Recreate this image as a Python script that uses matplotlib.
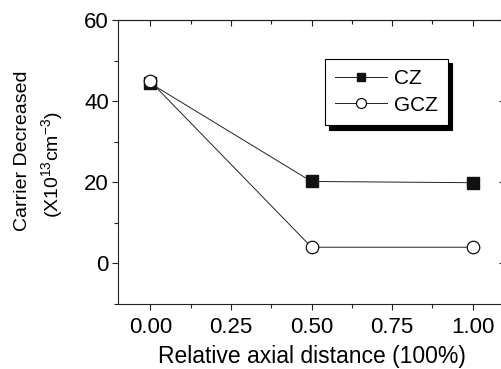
import matplotlib
matplotlib.use("Agg")
import matplotlib.pyplot as plt
from matplotlib.ticker import MultipleLocator

plt.rcParams['font.family'] = ['Liberation Sans', 'DejaVu Sans']
plt.rcParams['mathtext.fontset'] = 'custom'
plt.rcParams['mathtext.rm'] = 'Liberation Sans'

# data
position = [0.0, 0.5, 1.0]
cz = [44.4, 20.2, 19.9]
gcz = [44.9, 4.0, 4.0]

FS = 16
INK = '#222222'
W, H = 502, 369

fig = plt.figure(figsize=(5.02, 3.69), dpi=100)
# right edge sits just past the image border, like the reference crop
ax = fig.add_axes([118 / W, 1 - 304 / H, 387 / W, 284 / H])

ax.plot(position, cz, color=INK, lw=0.7, marker='s', ms=8,
        mfc='#111111', mec='#111111', label='CZ')
ax.plot(position, gcz, color=INK, lw=0.7, marker='o', ms=9,
        mfc='white', mec='#111111', mew=0.9, label='GCZ')

ax.set_xlim(-0.1, 1.1)
ax.set_ylim(-10, 60)
ax.xaxis.set_major_locator(MultipleLocator(0.25))
ax.xaxis.set_minor_locator(MultipleLocator(0.125))
ax.yaxis.set_major_locator(MultipleLocator(20))
ax.yaxis.set_minor_locator(MultipleLocator(10))
ax.xaxis.set_major_formatter(plt.FormatStrFormatter('%.2f'))
# bottom/left ticks point out
ax.tick_params(which='both', direction='out', labelsize=FS, width=0.8, color=INK)
ax.tick_params(which='major', length=4.5)
ax.tick_params(which='minor', length=3)
ax.tick_params(axis='x', which='major', pad=5)
ax.tick_params(axis='y', which='major', pad=2)
for s in ax.spines.values():
    s.set_linewidth(0.8)
    s.set_color(INK)

# top/right ticks point in
top = ax.secondary_xaxis('top')
top.xaxis.set_major_locator(MultipleLocator(0.25))
top.xaxis.set_minor_locator(MultipleLocator(0.125))
top.tick_params(which='both', direction='in', labeltop=False, width=0.8, color=INK)
top.tick_params(which='major', length=4.5)
top.tick_params(which='minor', length=3)
right = ax.secondary_yaxis('right')
right.yaxis.set_major_locator(MultipleLocator(20))
right.yaxis.set_minor_locator(MultipleLocator(10))
right.tick_params(which='both', direction='in', labelright=False, width=0.8, color=INK)
right.tick_params(which='major', length=4.5)
right.tick_params(which='minor', length=3)
for s in list(top.spines.values()) + list(right.spines.values()):
    s.set_linewidth(0.8)
    s.set_color(INK)

ax.set_xlabel('Relative axial distance (100%)', fontsize=16.5, labelpad=5)
# the two y-label lines are not centred on each other in the reference
fig.text(23 / W, 1 - 151 / H, 'Carrier Decreased', rotation=90,
         ha='center', va='center', fontsize=14)
fig.text(53 / W, 1 - 165 / H,
         '(X10$^{\\mathregular{13}}$cm$^{\\mathregular{-3}}$)', rotation=90,
         ha='center', va='center', fontsize=14)

leg = ax.legend(loc='upper left', bbox_to_anchor=(207 / 387, 245 / 284),
                borderaxespad=0, fontsize=15,
                frameon=True, fancybox=False, edgecolor='black',
                shadow={'color': 'black', 'alpha': 1.0, 'ox': 3.2, 'oy': -3.2},
                handlelength=2.5, borderpad=0.5, labelspacing=0.35,
                handletextpad=0.3, markerscale=0.8)
leg.get_frame().set_linewidth(0.8)

fig.savefig('out.png', dpi=100)
